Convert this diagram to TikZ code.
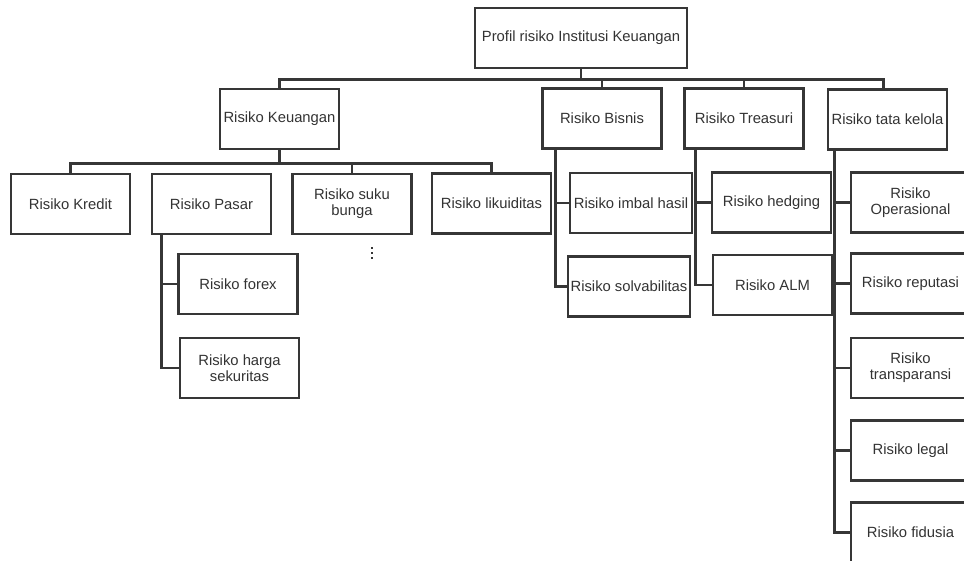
\documentclass[tikz,border=0pt]{standalone}
\usepackage{fontspec}
\setmainfont{Liberation Sans}
\definecolor{ink}{HTML}{363636}
\definecolor{txt}{HTML}{333333}
\begin{document}
\begin{tikzpicture}[x=1pt,y=-1pt,
  box/.style={draw=ink, line width=2.6pt, minimum width=119pt, minimum height=60pt,
    inner sep=0pt, align=center, text=txt, font=\fontsize{14.8}{15.8}\selectfont},
  wide/.style={minimum width=122pt},
  lowtext/.style={text depth=-4pt},
  link/.style={draw=ink, line width=2.6pt}]
\useasboundingbox (0,0) rectangle (964,561);
\clip (0,0) rectangle (964,561);
\fill[white] (0,0) rectangle (964,561);
% level 0
\node[box, minimum width=212pt] (root) at (581,38) {Profil risiko Institusi Keuangan};
% level 1
\node[box] (keu) at (279.5,119) {Risiko Keuangan};
\node[box] (bis) at (602,118.5) {Risiko Bisnis};
\node[box] (tre) at (744,118.5) {Risiko Treasuri};
\node[box] (tata) at (887.5,119.5) {Risiko tata kelola};
% level 2 under Keuangan
\node[box] (kredit) at (70.5,204) {Risiko Kredit};
\node[box] (pasar) at (211.5,204) {Risiko Pasar};
\node[box] (suku) at (352,204) {Risiko suku\\bunga};
\node[box] (likuid) at (491.5,203.5) {Risiko likuiditas};
% under Pasar
\node[box] (forex) at (238,284) {Risiko forex};
\node[box] (harga) at (239.5,368) {Risiko harga\\sekuritas};
% under Bisnis
\node[box, wide] (imbal) at (631,203) {Risiko imbal hasil};
\node[box, wide] (solv) at (629,286.5) {Risiko solvabilitas};
% under Treasuri
\node[box] (hedg) at (771.5,202.5) {Risiko hedging};
\node[box] (alm) at (772.5,285) {Risiko ALM};
% under tata kelola
\node[box] (oper) at (910.5,202.5) {Risiko\\Operasional};
\node[box] (rep) at (910.5,283.5) {Risiko reputasi};
\node[box] (trans) at (910.5,368) {Risiko\\transparansi};
\node[box] (legal) at (910.5,450.5) {Risiko legal};
\node[box] (fid) at (910.5,532.5) {Risiko fidusia};
% connectors level 0 -> 1
\foreach \c in {keu,bis,tre}
  \draw[link] (root.south) -- ++(0,10) -| (\c.north);
\draw[link] (root.south) -- ++(0,10) -| ([xshift=-4pt]tata.north);
% Keuangan -> children (no stem to Pasar, as in the reference)
\foreach \c in {kredit,suku,likuid}
  \draw[link] (keu.south) -- ++(0,13) -| (\c.north);
% Pasar -> children
\draw[link] ([xshift=11pt]pasar.south west) |- (forex.west);
\draw[link] ([xshift=11pt]pasar.south west) |- (harga.west);
% Bisnis -> children
\draw[link] ([xshift=14pt]bis.south west) |- (imbal.west);
\draw[link] ([xshift=14pt]bis.south west) |- (solv.west);
% Treasuri -> children
\draw[link] ([xshift=12pt]tre.south west) |- (hedg.west);
\draw[link] ([xshift=12pt]tre.south west) |- (alm.west);
% tata kelola -> children
\foreach \c in {oper,rep,trans,legal,fid}
  \draw[link] ([xshift=8pt]tata.south west) |- (\c.west);
% ellipsis under suku bunga
\foreach \yy in {248,253,258}
  \fill[ink] (371.2,\yy-1.2) rectangle (373.2,\yy+1.2);
\end{tikzpicture}
\end{document}
